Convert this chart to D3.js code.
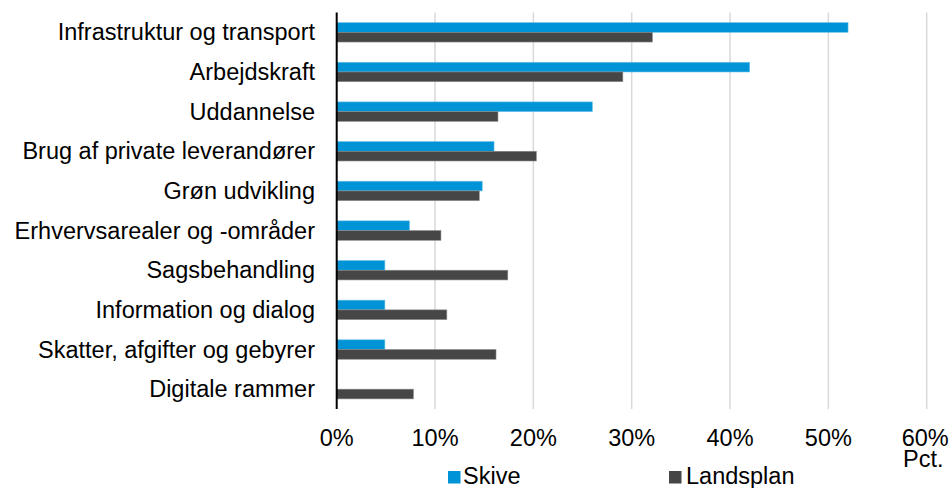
<!DOCTYPE html>
<html>
<head>
<meta charset="utf-8">
<script src="https://cdn.jsdelivr.net/npm/d3@7"></script>
<style>
  body { margin: 0; background: #fff; }
  svg { display: block; font-family: "Liberation Sans", Arial, sans-serif; }
</style>
</head>
<body>
<script>
'use strict';

(function() {

  let categories = [
    "Infrastruktur og transport",
    "Arbejdskraft",
    "Uddannelse",
    "Brug af private leverandører",
    "Grøn udvikling",
    "Erhvervsarealer og -områder",
    "Sagsbehandling",
    "Information og dialog",
    "Skatter, afgifter og gebyrer",
    "Digitale rammer"
  ];
  let skive = [52, 42, 26, 16, 14.8, 7.4, 4.9, 4.9, 4.9, 0];
  let landsplan = [32.1, 29.1, 16.4, 20.3, 14.5, 10.6, 17.4, 11.2, 16.2, 7.8];
  let seriesNames = ["Skive", "Landsplan"];
  let ticks = [0, 10, 20, 30, 40, 50, 60];

  let colors = ["#0093d6", "#464646"];
  let edges = ["#6cc2ea", "#8a8a8a"];

  let svg = "";

  window.onload = function() {
    svg = d3.select("body")
      .append('svg')
      .attr('width', 949)
      .attr('height', 488);

    let xScale = d3.scaleLinear()
      .domain([0, 60])
      .range([336.7, 926.7]);

    let yScale = d3.scaleBand()
      .domain(categories)
      .range([12.5, 409])
      .paddingInner(0)
      .paddingOuter(0);

    let inner = d3.scaleBand()
      .domain(seriesNames)
      .range([yScale.bandwidth() * 0.255, yScale.bandwidth() * 0.745]);

    // gridlines
    svg.append('g')
      .selectAll('line')
      .data(ticks.slice(1))
      .enter()
      .append('line')
        .attr('x1', (d) => xScale(d))
        .attr('x2', (d) => xScale(d))
        .attr('y1', 12.5)
        .attr('y2', 409)
        .attr('stroke', '#d9d9d9')
        .attr('stroke-width', 1.5);

    // bars
    let rows = categories.map((c, i) => ({cat: c, values: [skive[i], landsplan[i]]}));
    let groups = svg.selectAll('.row')
      .data(rows)
      .enter()
      .append('g')
        .attr('transform', (d) => 'translate(0,' + yScale(d.cat) + ')');

    groups.selectAll('rect')
      .data((d) => d.values.map((v, k) => ({v: v, k: k})))
      .enter()
      .filter((d) => d.v > 0)
      .append('rect')
        .attr('x', xScale(0))
        .attr('y', (d) => inner(seriesNames[d.k]))
        .attr('width', (d) => xScale(d.v) - xScale(0))
        .attr('height', inner.bandwidth())
        .attr('fill', (d) => colors[d.k])
        .attr('stroke', (d) => edges[d.k])
        .attr('stroke-width', 0.6);

    // category labels
    svg.append('g')
      .selectAll('text')
      .data(categories)
      .enter()
      .append('text')
        .attr('x', 315)
        .attr('y', (d) => yScale(d) + yScale.bandwidth() / 2 + 8)
        .attr('text-anchor', 'end')
        .style('font-size', '23.5px')
        .attr('fill', '#000')
        .text((d) => d);

    // vertical axis line
    svg.append('line')
      .attr('x1', xScale(0))
      .attr('x2', xScale(0))
      .attr('y1', 12.5)
      .attr('y2', 409)
      .attr('stroke', '#000')
      .attr('stroke-width', 2);

    // x tick labels
    svg.append('g')
      .selectAll('text')
      .data(ticks)
      .enter()
      .append('text')
        .attr('x', (d) => xScale(d) - (d == 60 ? 1.5 : 0))
        .attr('y', 446)
        .attr('text-anchor', 'middle')
        .style('font-size', '23.5px')
        .text((d) => d + '%');

    svg.append('text')
      .attr('x', 903)
      .attr('y', 467)
      .style('font-size', '23.5px')
      .text('Pct.');

    // legend
    let legendX = [448, 669];
    let textGap = [15, 17];
    seriesNames.forEach((name, k) => {
      svg.append('rect')
        .attr('x', legendX[k])
        .attr('y', 471)
        .attr('width', 12.5)
        .attr('height', 12.5)
        .attr('fill', colors[k]);
      svg.append('text')
        .attr('x', legendX[k] + textGap[k])
        .attr('y', 484)
        .style('font-size', '23.5px')
        .text(name);
    });
  }

})();
</script>
</body>
</html>
